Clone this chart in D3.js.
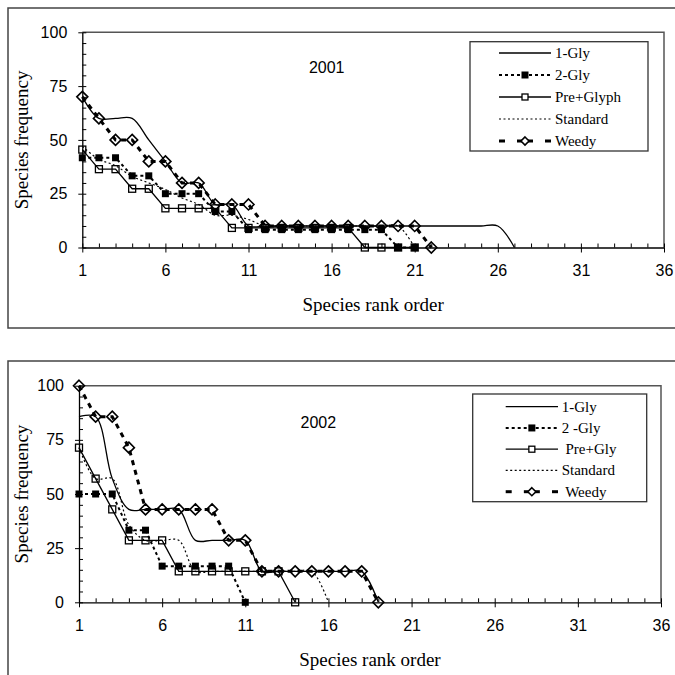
<!DOCTYPE html>
<html>
<head>
<meta charset="utf-8">
<script src="https://cdn.jsdelivr.net/npm/d3@7"></script>
<style>
  body { margin: 0; background: #fff; }
  .tick text { font-family: "Liberation Sans", Arial, sans-serif; font-size: 16px; fill: #000; }
</style>
</head>
<body>
<div id="chart"></div>
<script>
// ---- data (species frequency by rank, 1..n) ----
var xTicks = [1, 6, 11, 16, 21, 26, 31, 36];
var yTicks = [0, 25, 50, 75, 100];

var legend2001 = ["1-Gly", "2-Gly", "Pre+Glyph", "Standard", "Weedy"];
var legend2002 = ["1-Gly", "2 -Gly", " Pre+Gly", "Standard", " Weedy"];

var oneGly2001 = [70, 60, 60, 60, 50, 40, 30, 30, 20, 20, 10, 10, 10, 10, 10, 10, 10, 10, 10, 10, 10, 10, 10, 10, 10, 10, 0];
var twoGly2001 = [41.7, 41.7, 41.7, 33.3, 33.3, 25, 25, 25, 16.7, 16.7, 8.3, 8.3, 8.3, 8.3, 8.3, 8.3, 8.3, 8.3, 8.3, 0, 0];
var preGly2001 = [45.5, 36.4, 36.4, 27.3, 27.3, 18.2, 18.2, 18.2, 18.2, 9.1, 9.1, 9.1, 9.1, 9.1, 9.1, 9.1, 9.1, 0, 0, 0, 0];
var standard2001 = [47, 41, 38, 33, 30, 27, 23, 20, 15, 15, 13, 10, 10, 10, 10, 10, 10, 10, 10, 10, 0];
var weedy2001 = [70, 60, 50, 50, 40, 40, 30, 30, 20, 20, 20, 10, 10, 10, 10, 10, 10, 10, 10, 10, 10, 0];

var oneGly2002 = [85.7, 85.7, 57.1, 42.9, 42.9, 42.9, 42.9, 28.6, 28.6, 28.6, 28.6, 14.3, 14.3, 14.3, 14.3, 14.3, 14.3, 14.3, 0];
var twoGly2002 = [50, 50, 50, 33.3, 33.3, 16.7, 16.7, 16.7, 16.7, 16.7, 0];
var preGly2002 = [71.4, 57.1, 42.9, 28.6, 28.6, 28.6, 14.3, 14.3, 14.3, 14.3, 14.3, 14.3, 14.3, 0];
var standard2002 = [71.4, 57.1, 57.1, 35.7, 28.6, 28.6, 28.6, 14.3, 14.3, 14.3, 14.3, 14.3, 14.3, 14.3, 14.3, 0];
var weedy2002 = [100, 85.7, 85.7, 71.4, 42.9, 42.9, 42.9, 42.9, 42.9, 28.6, 28.6, 14.3, 14.3, 14.3, 14.3, 14.3, 14.3, 14.3, 0];

// line / marker style for each series, in legend order
var styles = [
  {dash: null,  width: 1.3, smooth: true,  marker: null},
  {dash: "3,3", width: 2,   smooth: false, marker: "filled"},
  {dash: null,  width: 1.3, smooth: false, marker: "square"},
  {dash: "2,2.5", width: 1.2, smooth: true, marker: null},
  {dash: "5,5", width: 3,   smooth: false, marker: "diamond"}
];

var svg = d3.select("#chart").append("svg")
  .attr("width", 675)
  .attr("height", 675);

// outer frames
svg.append("rect").attr("x", 8).attr("y", 8).attr("width", 700).attr("height", 320)
  .attr("fill", "none").attr("stroke", "#444").attr("stroke-width", 1.5);
svg.append("rect").attr("x", 8).attr("y", 361).attr("width", 700).attr("height", 400)
  .attr("fill", "none").attr("stroke", "#444").attr("stroke-width", 1.5);

function drawMarker(g, type, cx, cy, s) {
  if (type == "filled") {
    g.append("rect").attr("x", cx - s / 2).attr("y", cy - s / 2).attr("width", s).attr("height", s)
      .attr("fill", "#000");
  } else if (type == "square") {
    g.append("rect").attr("x", cx - s / 2).attr("y", cy - s / 2).attr("width", s).attr("height", s)
      .attr("fill", "none").attr("stroke", "#000").attr("stroke-width", 1.3);
  } else if (type == "diamond") {
    var r = s / 2;
    g.append("path")
      .attr("d", "M" + cx + "," + (cy - r) + "L" + (cx + r) + "," + cy + "L" + cx + "," + (cy + r) + "L" + (cx - r) + "," + cy + "Z")
      .attr("fill", "none").attr("stroke", "#000").attr("stroke-width", 1.6);
  }
}

function drawPanel(p) {
  var x = d3.scaleLinear().domain([1, 36]).range(p.xRange);
  var y = d3.scaleLinear().domain([0, 100]).range(p.yRange);
  var g = svg.append("g");

  // plot area border (top and right)
  g.append("path")
    .attr("d", "M" + x(1) + "," + y(100) + "H" + x(36) + "V" + y(0))
    .attr("fill", "none").attr("stroke", "#555").attr("stroke-width", 1.5);

  // X axis: labelled major ticks crossing, minor ticks inside
  g.append("g")
    .attr("transform", "translate(0," + y(0) + ")")
    .call(d3.axisBottom(x).tickValues(xTicks).tickSize(5).tickSizeOuter(0).tickPadding(12.5))
    .call(function(a) { a.select(".domain").attr("stroke-width", 1.3); });
  g.append("g")
    .attr("transform", "translate(0," + y(0) + ")")
    .call(d3.axisTop(x).tickValues(d3.range(1, 37)).tickSize(4).tickSizeOuter(0).tickFormat(""))
    .call(function(a) { a.select(".domain").remove(); });

  // Y axis
  g.append("g")
    .attr("transform", "translate(" + x(1) + ",0)")
    .call(d3.axisLeft(y).tickValues(yTicks).tickSize(4).tickSizeOuter(0).tickPadding(11))
    .call(function(a) { a.select(".domain").attr("stroke-width", 1.3); });
  g.append("g")
    .attr("transform", "translate(" + x(1) + ",0)")
    .call(d3.axisRight(y).tickValues(d3.range(0, 101, 5)).tickSize(4).tickSizeOuter(0).tickFormat(""))
    .call(function(a) { a.select(".domain").remove(); });

  // series
  p.series.forEach(function(vals, k) {
    var st = styles[k];
    var line = d3.line()
      .x(function(d, i) { return x(i + 1); })
      .y(function(d) { return y(d); })
      .curve(st.smooth ? d3.curveCatmullRom.alpha(0.5) : d3.curveLinear);
    g.append("path")
      .datum(vals)
      .attr("d", line)
      .attr("fill", "none")
      .attr("stroke", "#000")
      .attr("stroke-width", st.width)
      .attr("stroke-dasharray", st.dash);
  });
  p.series.forEach(function(vals, k) {
    var st = styles[k];
    if (!st.marker) return;
    vals.forEach(function(d, i) {
      drawMarker(g, st.marker, x(i + 1), y(d), st.marker == "diamond" ? 11 : 7);
    });
  });

  // year label
  g.append("text")
    .attr("x", p.yearPos[0]).attr("y", p.yearPos[1])
    .attr("text-anchor", "middle")
    .style("font-family", "Liberation Sans, Arial, sans-serif")
    .style("font-size", "16px")
    .text(p.year);

  // axis titles
  g.append("text")
    .attr("x", (x(1) + x(36)) / 2)
    .attr("y", y(0) + 63.5)
    .attr("text-anchor", "middle")
    .style("font-family", "Liberation Serif, Times New Roman, serif")
    .style("font-size", "19px")
    .text("Species rank order");
  g.append("text")
    .attr("transform", "translate(28," + (y(0) + y(100)) / 2 + ") rotate(-90)")
    .attr("text-anchor", "middle")
    .style("font-family", "Liberation Serif, Times New Roman, serif")
    .style("font-size", "19px")
    .text("Species frequency");

  // legend
  var L = p.legend;
  g.append("rect")
    .attr("x", L.x).attr("y", L.y).attr("width", L.w).attr("height", L.h)
    .attr("fill", "#fff").attr("stroke", "#333").attr("stroke-width", 1.3);
  p.names.forEach(function(name, k) {
    var st = styles[k];
    var ry = L.row0 + k * L.step;
    var mid = (L.x0 + L.x1) / 2;
    if (st.marker == "diamond") {
      // weedy: dash, marker with stub, dash
      g.append("line").attr("x1", L.x0).attr("x2", L.x0 + 6).attr("y1", ry).attr("y2", ry)
        .attr("stroke", "#000").attr("stroke-width", 3);
      g.append("line").attr("x1", mid - 8).attr("x2", mid + 8).attr("y1", ry).attr("y2", ry)
        .attr("stroke", "#000").attr("stroke-width", 3);
      g.append("line").attr("x1", L.x1 - 6).attr("x2", L.x1).attr("y1", ry).attr("y2", ry)
        .attr("stroke", "#000").attr("stroke-width", 3);
    } else {
      g.append("line").attr("x1", L.x0).attr("x2", L.x1).attr("y1", ry).attr("y2", ry)
        .attr("stroke", "#000").attr("stroke-width", st.width)
        .attr("stroke-dasharray", st.dash);
    }
    if (st.marker == "diamond") {
      g.append("path")
        .attr("d", "M" + mid + "," + (ry - 4) + "L" + (mid + 4) + "," + ry + "L" + mid + "," + (ry + 4) + "L" + (mid - 4) + "," + ry + "Z")
        .attr("fill", "#fff").attr("stroke", "#000").attr("stroke-width", 1.6);
    } else if (st.marker == "square") {
      g.append("rect").attr("x", mid - 3).attr("y", ry - 3).attr("width", 6).attr("height", 6)
        .attr("fill", "#fff").attr("stroke", "#000").attr("stroke-width", 1.3);
    } else if (st.marker) {
      drawMarker(g, st.marker, mid, ry, 7);
    }
    g.append("text")
      .attr("x", L.tx).attr("y", ry + 5)
      .attr("xml:space", "preserve")
      .style("white-space", "pre")
      .style("font-family", "Liberation Serif, Times New Roman, serif")
      .style("font-size", "15px")
      .text(name);
  });
}

drawPanel({
  year: "2001",
  xRange: [82.3, 664],
  yRange: [247.5, 32.3],
  yearPos: [326.7, 73],
  names: legend2001,
  series: [oneGly2001, twoGly2001, preGly2001, standard2001, weedy2001],
  legend: {x: 470, y: 41.7, w: 178, h: 109.3, row0: 53, step: 22, x0: 499, x1: 551, tx: 555}
});

drawPanel({
  year: "2002",
  xRange: [79, 661],
  yRange: [602.3, 385.7],
  yearPos: [318.3, 428.3],
  names: legend2002,
  series: [oneGly2002, twoGly2002, preGly2002, standard2002, weedy2002],
  legend: {x: 472.7, y: 394, w: 174, h: 107.7, row0: 406.7, step: 21.25, x0: 505.7, x1: 558, tx: 561.7}
});
</script>
</body>
</html>
